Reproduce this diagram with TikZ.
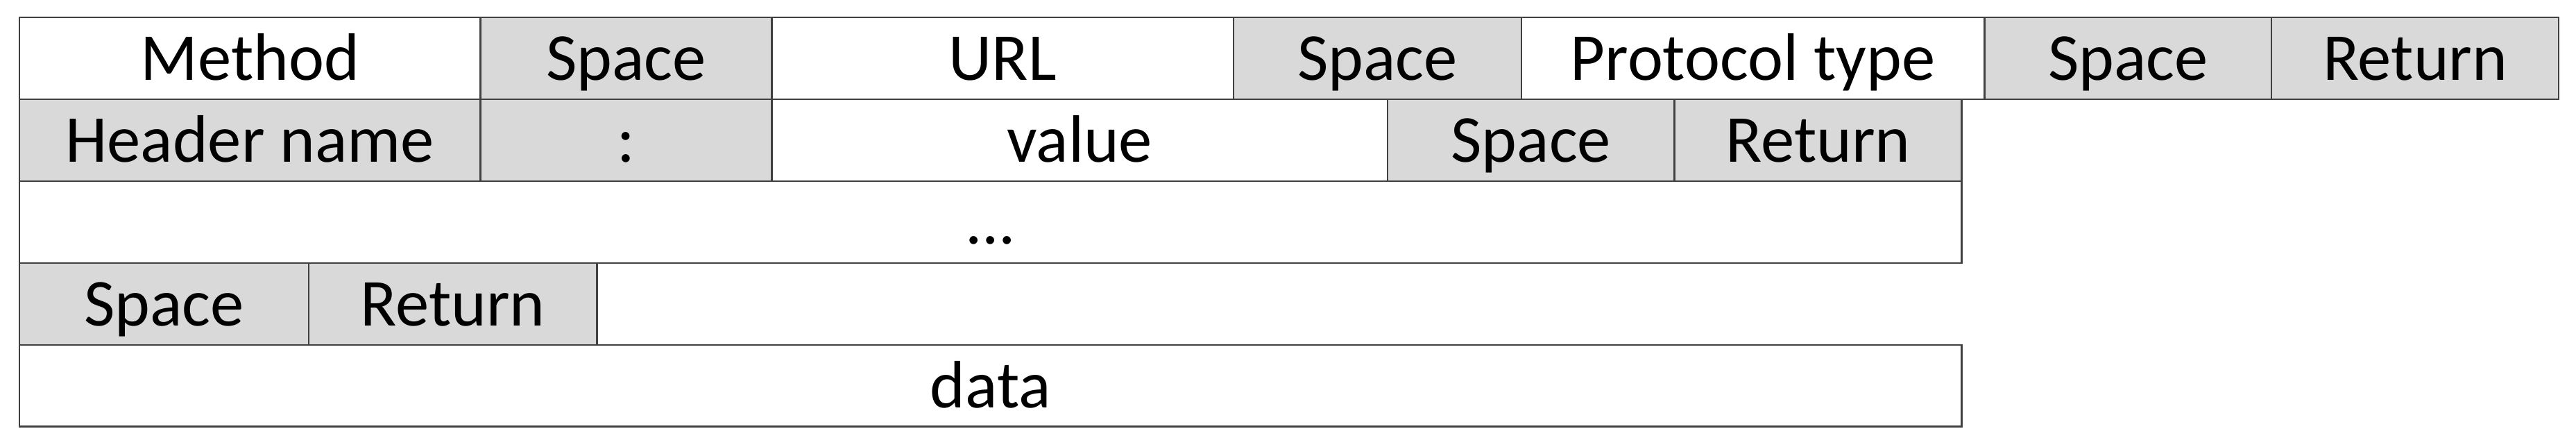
\documentclass[tikz,border=0pt]{standalone}
\usepackage{fontspec}
\setmainfont{Carlito}
\definecolor{cellgray}{HTML}{D9D9D9}
\definecolor{lineg}{HTML}{404040}
\newcommand\mycell[7]{\node[#2, minimum width={(#4-#3)*0.01cm}, minimum height={(#6-#5)*0.01cm}] (#1) at ({(#3+#4)/2*0.01}, {-(#5+#6)/2*0.01}) {#7};}
\begin{document}
\begin{tikzpicture}[
  cellbase/.style={draw=lineg, line width=0.7pt, inner sep=0pt, outer sep=0pt, text height=0.76cm, text depth=0.124cm, font=\fontsize{27.5}{33}\selectfont, text=black},
  cw/.style={cellbase, fill=white},
  cg/.style={cellbase, fill=cellgray}
]
\useasboundingbox (0,0) rectangle (37.13,-6.43);
% row 1
\mycell{method}{cw}{28}{693}{25}{143}{Method}
\mycell{sp1}{cg}{693}{1113}{25}{143}{Space}
\mycell{url}{cw}{1113}{1779}{25}{143}{URL}
\mycell{sp2}{cg}{1779}{2194}{25}{143}{Space}
\mycell{proto}{cw}{2194}{2862}{25}{143}{Protocol type}
\mycell{sp3}{cg}{2862}{3276}{25}{143}{Space}
\mycell{ret1}{cg}{3276}{3690}{25}{143}{Return}
% row 2
\mycell{hname}{cg}{28}{693}{143}{261}{Header name}
\mycell{colon}{cg}{693}{1113}{143}{261}{:}
\mycell{value}{cw}{1113}{2001}{143}{261}{value}
\mycell{sp4}{cg}{2001}{2415}{143}{261}{Space}
\mycell{ret2}{cg}{2415}{2829}{143}{261}{Return}
% row 3
\mycell{dots}{cw}{28}{2829}{261}{379}{...}
% row 4
\mycell{sp5}{cg}{28}{445}{379}{497}{Space}
\mycell{ret3}{cg}{445}{861}{379}{497}{Return}
% row 5
\mycell{data}{cw}{28}{2829}{497}{615}{data}
\end{tikzpicture}
\end{document}
